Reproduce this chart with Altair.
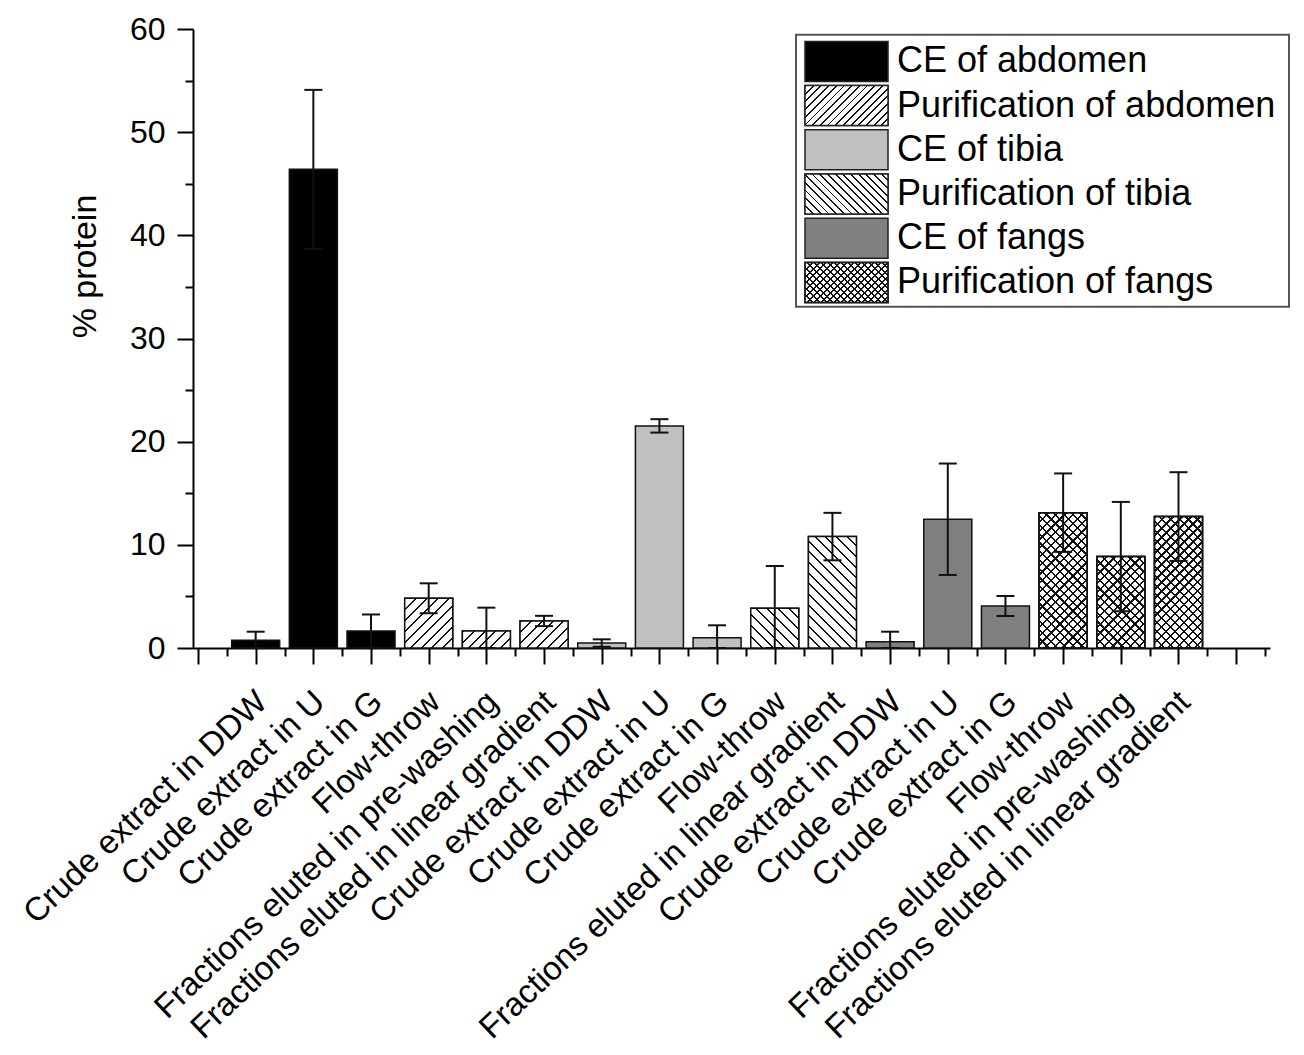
import json
import math

import altair as alt
import pandas as pd

# ---- data ----
labels = [
    "Crude extract in DDW", "Crude extract in U", "Crude extract in G",
    "Flow-throw", "Fractions eluted in pre-washing", "Fractions eluted in linear gradient",
    "Crude extract in DDW", "Crude extract in U", "Crude extract in G",
    "Flow-throw", "Fractions eluted in linear gradient",
    "Crude extract in DDW", "Crude extract in U", "Crude extract in G",
    "Flow-throw", "Fractions eluted in pre-washing", "Fractions eluted in linear gradient",
]
groups = (
    ["CE of abdomen"] * 3 + ["Purification of abdomen"] * 3
    + ["CE of tibia"] * 3 + ["Purification of tibia"] * 2
    + ["CE of fangs"] * 3 + ["Purification of fangs"] * 3
)
values = [0.75, 46.4, 1.65, 4.82, 1.65, 2.62, 0.48, 21.53, 1.0, 3.85, 10.8,
          0.61, 12.48, 4.07, 13.12, 8.86, 12.74]
errors = [0.83, 7.7, 1.6, 1.45, 2.26, 0.5, 0.36, 0.65, 1.2, 4.1, 2.3,
          0.97, 5.4, 0.97, 3.8, 5.3, 4.3]
positions = list(range(1, len(labels) + 1))

legend_entries = ["CE of abdomen", "Purification of abdomen", "CE of tibia",
                  "Purification of tibia", "CE of fangs", "Purification of fangs"]
legend_fills = ["#000000", "white", "#c0c0c0", "white", "#808080", "white"]
hatch_style = {"Purification of abdomen": ["/"],
               "Purification of tibia": ["\\"],
               "Purification of fangs": ["/", "\\"]}

# ---- layout ----
W, H = 1077, 619
Y_MAX = 60
BAR_W = 48
FONT = "Liberation Sans"

df = pd.DataFrame({"pos": positions, "label": labels, "group": groups,
                   "value": values, "err": errors})
leg_df = pd.DataFrame({"group": legend_entries})
box_df = pd.DataFrame({"box": [0]})


def hatch(w, h, slope, period, lw, bg, fg="#111"):
    # stripes at 45 deg on a w x h box (gradient is in bounding-box units)
    L = (w + h) / math.sqrt(2)
    k = (w + h) / (w * w + h * h)
    n = max(1, round(L / period))
    stops = []
    for i in range(n):
        a = i / n
        nxt = (i + 1) / n
        b = min(a + lw / L, nxt)
        stops += [alt.GradientStop(offset=a, color=fg), alt.GradientStop(offset=b, color=fg),
                  alt.GradientStop(offset=b, color=bg), alt.GradientStop(offset=nxt, color=bg)]
    if slope == "/":
        x1, y1, x2, y2 = 0, 0, k * w, k * h
    else:
        x1, y1, x2, y2 = 0, 1, k * w, 1 - k * h
    return alt.LinearGradient(gradient="linear", stops=stops, x1=x1, y1=y1, x2=x2, y2=y2)


label_js = "[" + ",".join(json.dumps(l) for l in labels) + "]"
x_axis = alt.Axis(
    values=[i * 0.5 for i in range(38)],
    labelExpr=f"datum.value % 1 == 0 && datum.value >= 1 && datum.value <= {len(labels)} ? {label_js}[datum.value - 1] : ''",
    labelAngle=316.5, labelAlign="right", labelBaseline="top",
    labelOffset=-5, labelPadding=21, labelFontSize=33, labelFont=FONT,
    labelColor="black", labelLimit=800, labelOverlap=False, labelBound=False, labelFlush=False,
    tickSize={"condition": {"test": "datum.value % 1 == 0", "value": 16}, "value": 8},
    tickWidth=2, tickColor="black", domainColor="black", domainWidth=2,
    grid=False, title=None,
)
y_axis = alt.Axis(
    values=list(range(0, 61, 5)),
    labelExpr="datum.value % 10 == 0 ? datum.value : ''",
    labelFontSize=32, labelFont=FONT, labelColor="black", labelPadding=12,
    tickSize={"condition": {"test": "datum.value % 10 == 0", "value": 16}, "value": 8},
    tickWidth=2, tickColor="black", domainColor="black", domainWidth=2, grid=False,
    title="% protein", titleFont=FONT, titleFontSize=34, titleFontWeight="normal",
    titleColor="black", titleAngle=270, titleAlign="center", titleBaseline="middle",
    titleX=-108, titleY=237,
)
x_scale = alt.Scale(domain=[0, 18.5], nice=False, zero=False)
y_scale = alt.Scale(domain=[0, Y_MAX], nice=False)
x_enc = alt.X("pos:Q", scale=x_scale, axis=x_axis)
color_enc = alt.Color("group:N", scale=alt.Scale(domain=legend_entries, range=legend_fills), legend=None)

bars = alt.Chart(df).mark_bar(size=BAR_W, stroke="#111", strokeWidth=1.5).encode(
    x=x_enc, y=alt.Y("value:Q", scale=y_scale, axis=y_axis), color=color_enc
)

hatch_layers = []
for p, g, v in zip(positions, groups, values):
    if g not in hatch_style:
        continue
    h = v * H / Y_MAX
    for j, slope in enumerate(hatch_style[g]):
        bg = "white" if j == 0 else "rgba(0,0,0,0)"
        per, lw = (6.2, 1.6) if g == "Purification of fangs" else (7.5, 1.4)
        hatch_layers.append(
            alt.Chart(df).transform_filter(alt.datum.pos == p)
            .mark_bar(size=BAR_W, fill=hatch(BAR_W, h, slope, per, lw, bg), stroke="#111", strokeWidth=1.5)
            .encode(x=x_enc, y=alt.Y("value:Q", scale=y_scale, axis=y_axis))
        )

err_base = alt.Chart(df).transform_calculate(
    lo="max(0, datum.value - datum.err)", hi="datum.value + datum.err"
)
err_rule = err_base.mark_rule(strokeWidth=2, color="#111").encode(
    x=x_enc, y=alt.Y("lo:Q", scale=y_scale, axis=y_axis), y2="hi:Q"
)
err_caps = err_base.transform_fold(["lo", "hi"], as_=["end", "yv"]).mark_tick(
    orient="horizontal", size=18, thickness=2, color="#111", opacity=1
).encode(x=x_enc, y=alt.Y("yv:Q", scale=y_scale, axis=y_axis))

main = alt.layer(bars, *hatch_layers, err_rule, err_caps)

# ---- legend drawn by hand (hatched swatches) ----
leg_y = alt.Y("group:N", scale=alt.Scale(domain=legend_entries, range=[10.3, 275.5],
                                          paddingInner=0.095, paddingOuter=0.0475), axis=None)
leg_box = alt.Chart(box_df).mark_rect(fill="white", stroke="#555", strokeWidth=2).encode(
    x=alt.value(603), x2=alt.value(1096), y=alt.value(5.7), y2=alt.value(277.7)
)
leg_sw = alt.Chart(leg_df).mark_rect(stroke="#222", strokeWidth=1.5).encode(
    x=alt.value(612), x2=alt.value(695), y=leg_y, color=color_enc
)
leg_hatch = []
for g in legend_entries:
    if g not in hatch_style:
        continue
    for j, slope in enumerate(hatch_style[g]):
        bg = "white" if j == 0 else "rgba(0,0,0,0)"
        per, lw = (4.8, 1.4) if g == "Purification of fangs" else (5.5, 1.3)
        leg_hatch.append(
            alt.Chart(leg_df).transform_filter(alt.datum.group == g)
            .mark_rect(fill=hatch(83, 40, slope, per, lw, bg), stroke="#222", strokeWidth=1.5)
            .encode(x=alt.value(612), x2=alt.value(695), y=leg_y)
        )
leg_text = alt.Chart(leg_df).mark_text(
    align="left", baseline="middle", fontSize=36, font=FONT, color="black"
).encode(x=alt.value(704), y=leg_y, text="group:N")

legend = alt.layer(leg_box, leg_sw, *leg_hatch, leg_text)

chart = (
    alt.layer(main, legend)
    .resolve_scale(y="independent")
    .properties(width=W, height=H, padding={"left": 9, "top": 5, "right": 0, "bottom": 0},
                background="white")
    .configure_view(stroke=None)
)

chart.save("out.html", embed_options={"renderer": "svg", "actions": False})
